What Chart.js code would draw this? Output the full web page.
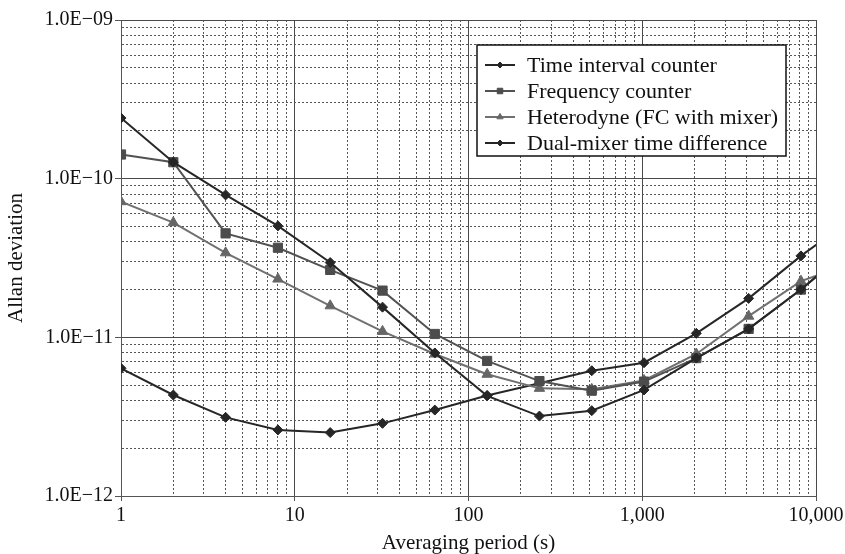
<!DOCTYPE html>
<html>
<head>
<meta charset="utf-8">
<script src="https://cdn.jsdelivr.net/npm/chart.js@4.4.1/dist/chart.umd.min.js"></script>
<style>
    html, body { margin: 0; padding: 0; background: #fff; }
    #wrap { width: 845px; height: 554px; }
</style>
</head>
<body>
<div id="wrap"><canvas id="allan"></canvas></div>
<script>
"use strict"

// Data
const periods = [1, 2, 4, 8, 16, 32, 64, 128, 256, 512, 1024, 2048, 4096, 8192, 16384];
const timeInterval = [2.41e-10, 1.27e-10, 7.9e-11, 5.04e-11, 2.96e-11, 1.55e-11, 7.97e-12, 4.28e-12, 3.19e-12, 3.45e-12, 4.66e-12, 7.4e-12, 1.13e-11, 2.0e-11, 3.8e-11];
const freqCounter = [1.42e-10, 1.27e-10, 4.52e-11, 3.67e-11, 2.66e-11, 1.97e-11, 1.05e-11, 7.1e-12, 5.3e-12, 4.61e-12, 5.26e-12, 7.4e-12, 1.13e-11, 2.0e-11, 3.8e-11];
const heterodyne = [7.16e-11, 5.28e-11, 3.41e-11, 2.33e-11, 1.58e-11, 1.09e-11, 7.85e-12, 5.85e-12, 4.77e-12, 4.7e-12, 5.35e-12, 7.85e-12, 1.36e-11, 2.26e-11, 2.95e-11];
const dualMixer = [6.38e-12, 4.33e-12, 3.13e-12, 2.61e-12, 2.51e-12, 2.87e-12, 3.48e-12, 4.3e-12, 5.13e-12, 6.16e-12, 6.92e-12, 1.06e-11, 1.76e-11, 3.26e-11, 5.65e-11];

const seriesNames = ['Time interval counter', 'Frequency counter', 'Heterodyne (FC with mixer)', 'Dual-mixer time difference'];

const xMajor = [1, 10, 100, 1000, 10000];
const xTickLabels = ['1', '10', '100', '1,000', '10,000'];
const yMajor = [1e-12, 1e-11, 1e-10, 1e-9];
const yTickLabels = ['1.0E\u221212', '1.0E\u221211', '1.0E\u221210', '1.0E\u221209'];

const FONT = "'Liberation Serif', 'DejaVu Serif', serif";

// Alla ticks: dekader plus 2..9 emellan (för rutnätet)
function logTicks(majors) {
    const list = [];
    for (let i = 0; i < majors.length; i++) {
        list.push(majors[i]);
        if (i < majors.length - 1) {
            for (let k = 2; k <= 9; k++) list.push(majors[i] * k);
        }
    }
    return list;
}

function isMajor(v) {
    const l = Math.log10(v);
    return Math.abs(l - Math.round(l)) < 1e-6;
}

function points(values) {
    return periods.map((p, i) => ({ x: p, y: values[i] }));
}

const styles = [
    { color: '#262626', pointColor: '#262626', style: 'rectRot', radius: 5 },
    { color: '#525252', pointColor: '#4c4c4c', style: 'rect', radius: 6.5 },
    { color: '#707070', pointColor: '#666666', style: 'triangle', radius: 6 },
    { color: '#262626', pointColor: '#262626', style: 'rectRot', radius: 5 }
];

const allSeries = [timeInterval, freqCounter, heterodyne, dualMixer];

const datasets = allSeries.map((values, i) => ({
    label: seriesNames[i],
    data: points(values),
    borderColor: styles[i].color,
    backgroundColor: styles[i].pointColor,
    pointBackgroundColor: styles[i].pointColor,
    pointBorderColor: styles[i].pointColor,
    pointStyle: styles[i].style,
    pointRadius: styles[i].radius,
    pointBorderWidth: 1,
    borderWidth: 2,
    tension: 0
}));

// Egen legend inne i diagrammet
const boxLegend = {
    id: 'boxLegend',
    afterDraw(chart) {
        const ctx = chart.ctx;
        const left = 477, top = 45, w = 309, h = 111;
        ctx.save();
        ctx.fillStyle = '#fff';
        ctx.fillRect(left, top, w, h);
        ctx.strokeStyle = '#111';
        ctx.lineWidth = 1.5;
        ctx.strokeRect(left, top, w, h);
        ctx.font = '22px ' + FONT;
        ctx.textBaseline = 'middle';
        chart.data.datasets.forEach((ds, i) => {
            const y = 65 + i * 26;
            ctx.strokeStyle = ds.borderColor;
            ctx.lineWidth = 2;
            ctx.beginPath();
            ctx.moveTo(485, y);
            ctx.lineTo(515, y);
            ctx.stroke();
            ctx.fillStyle = ds.pointBackgroundColor;
            ctx.strokeStyle = ds.pointBorderColor;
            ctx.lineWidth = 1;
            if (Chart.helpers && Chart.helpers.drawPoint) {
                Chart.helpers.drawPoint(ctx, { pointStyle: ds.pointStyle, radius: ds.pointRadius * 0.6, rotation: 0, borderWidth: 1 }, 500, y);
            }
            ctx.fillStyle = '#111';
            ctx.fillText(ds.label, 527, y + 1);
        });
        ctx.restore();
    }
};

function showChart() {
    const el = document.getElementById('allan');

    new Chart(el, {
        type: 'line',
        data: { datasets: datasets },
        options: {
            responsive: true,
            maintainAspectRatio: false,
            animation: false,
            layout: { padding: { left: 0, right: 29, top: 20, bottom: 0 } },
            plugins: {
                legend: { display: false },
                tooltip: { enabled: false }
            },
            scales: {
                x: {
                    type: 'logarithmic',
                    min: 1,
                    max: 10000,
                    afterBuildTicks: (scale) => {
                        scale.ticks = logTicks(xMajor).map((v) => ({ value: v }));
                    },
                    afterFit: (scale) => {
                        scale.height = 58;
                        scale.paddingLeft = 0;
                        scale.paddingRight = 0;
                    },
                    ticks: {
                        autoSkip: false,
                        maxRotation: 0,
                        padding: 3,
                        color: '#111',
                        font: { family: FONT, size: 20 },
                        callback: (v) => {
                            const i = xMajor.indexOf(v);
                            return i >= 0 ? xTickLabels[i] : '';
                        }
                    },
                    grid: {
                        color: (c) => (c.tick && isMajor(c.tick.value)) ? '#4a4a4a' : '#555',
                        lineWidth: 1,
                        tickLength: 5,
                        tickColor: (c) => (c.tick && isMajor(c.tick.value)) ? '#555' : 'rgba(0,0,0,0)'
                    },
                    border: {
                        color: '#555',
                        width: 1,
                        dash: (c) => (c.tick && !isMajor(c.tick.value)) ? [2, 2] : []
                    },
                    title: {
                        display: true,
                        text: 'Averaging period (s)',
                        color: '#111',
                        font: { family: FONT, size: 21, lineHeight: 1 },
                        padding: { top: 0, bottom: 0 }
                    }
                },
                y: {
                    type: 'logarithmic',
                    min: 1e-12,
                    max: 1e-9,
                    afterBuildTicks: (scale) => {
                        scale.ticks = logTicks(yMajor).map((v) => ({ value: v }));
                    },
                    afterFit: (scale) => {
                        scale.width = 121;
                        scale.paddingTop = 0;
                        scale.paddingBottom = 0;
                    },
                    ticks: {
                        autoSkip: false,
                        padding: 2,
                        color: '#111',
                        font: { family: FONT, size: 20 },
                        callback: (v) => {
                            const i = yMajor.findIndex((m) => Math.abs(m - v) / m < 1e-6);
                            return i >= 0 ? yTickLabels[i] : '';
                        }
                    },
                    grid: {
                        color: (c) => (c.tick && isMajor(c.tick.value)) ? '#4a4a4a' : '#555',
                        lineWidth: 1,
                        tickLength: 6,
                        tickColor: (c) => (c.tick && isMajor(c.tick.value)) ? '#555' : 'rgba(0,0,0,0)'
                    },
                    border: {
                        color: '#555',
                        width: 1,
                        dash: (c) => (c.tick && !isMajor(c.tick.value)) ? [2, 2] : []
                    },
                    title: {
                        display: true,
                        text: 'Allan deviation',
                        color: '#111',
                        font: { family: FONT, size: 21, lineHeight: 1 },
                        padding: { top: 6, bottom: 0 }
                    }
                }
            }
        },
        plugins: [boxLegend]
    });
}

window.onload = showChart;
</script>
</body>
</html>
